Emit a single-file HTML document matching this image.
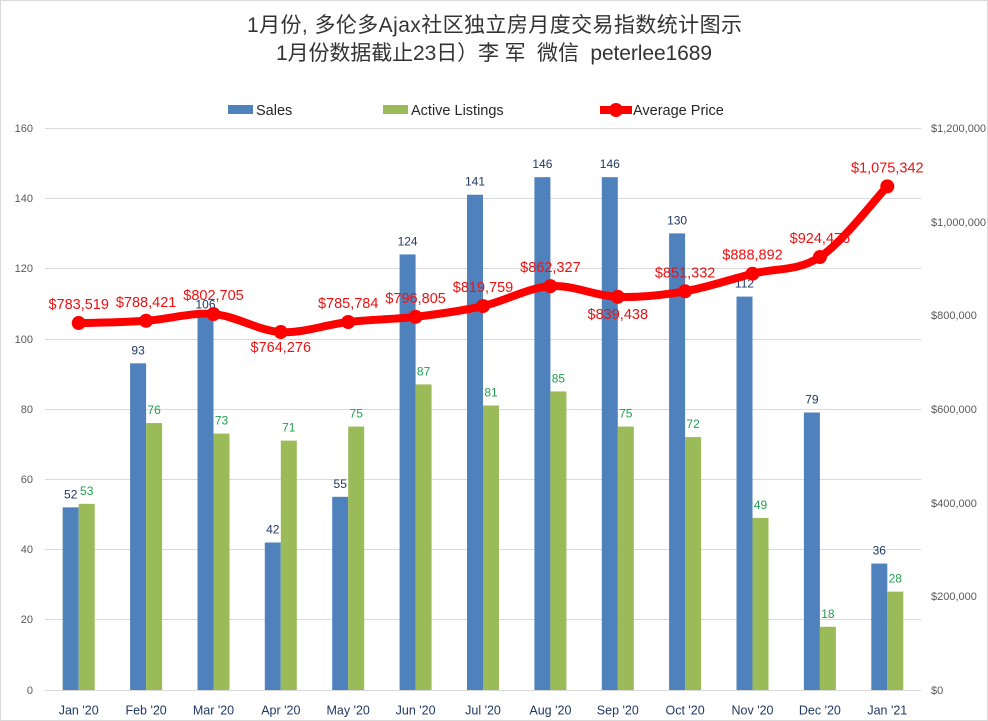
<!DOCTYPE html>
<html>
<head>
<meta charset="utf-8">
<style>
html,body{margin:0;padding:0;background:#fff;}
svg{display:block;}
text{font-family:"Liberation Sans","Noto Sans CJK SC",sans-serif;}
</style>
</head>
<body>
<svg width="988" height="721" viewBox="0 0 988 721" xmlns="http://www.w3.org/2000/svg">
<rect x="0.5" y="0.5" width="987" height="720" fill="#fff" stroke="#d9d9d9" stroke-width="1"/>

<!-- Title -->
<text x="494.5" y="32" font-size="21" fill="#333" text-anchor="middle" textLength="495" lengthAdjust="spacing">1月份, 多伦多Ajax社区独立房月度交易指数统计图示</text>
<text x="494" y="60" font-size="21" fill="#333" text-anchor="middle" textLength="436" lengthAdjust="spacing" xml:space="preserve">1月份数据截止23日）李 军  微信  peterlee1689</text>

<!-- Legend -->
<rect x="228" y="105" width="25" height="9" fill="#4f81bd"/>
<text x="256" y="115" font-size="14.5" fill="#262626">Sales</text>
<rect x="383" y="105" width="25" height="9" fill="#9bbb59"/>
<text x="411" y="115" font-size="14.5" fill="#262626">Active Listings</text>
<line x1="600" y1="110" x2="632" y2="110" stroke="#ff0000" stroke-width="8"/>
<circle cx="616" cy="110" r="7" fill="#ff0000"/>
<text x="633" y="115" font-size="14.5" fill="#262626">Average Price</text>

<!-- Gridlines -->
<g stroke="#d9d9d9" stroke-width="1">
<line x1="45" y1="128.5" x2="921" y2="128.5"/>
<line x1="45" y1="198.5" x2="921" y2="198.5"/>
<line x1="45" y1="268.5" x2="921" y2="268.5"/>
<line x1="45" y1="339.5" x2="921" y2="339.5"/>
<line x1="45" y1="409.5" x2="921" y2="409.5"/>
<line x1="45" y1="479.5" x2="921" y2="479.5"/>
<line x1="45" y1="549.5" x2="921" y2="549.5"/>
<line x1="45" y1="619.5" x2="921" y2="619.5"/>
<line x1="45" y1="690.5" x2="921" y2="690.5"/>
</g>

<!-- Left axis labels -->
<g font-size="11" fill="#595959" text-anchor="end">
<text x="33" y="132">160</text>
<text x="33" y="202">140</text>
<text x="33" y="272">120</text>
<text x="33" y="343">100</text>
<text x="33" y="413">80</text>
<text x="33" y="483">60</text>
<text x="33" y="553">40</text>
<text x="33" y="623">20</text>
<text x="33" y="694">0</text>
</g>

<!-- Right axis labels -->
<g font-size="11" fill="#595959" text-anchor="start">
<text x="931" y="132">$1,200,000</text>
<text x="931" y="226">$1,000,000</text>
<text x="931" y="319">$800,000</text>
<text x="931" y="413">$600,000</text>
<text x="931" y="507">$400,000</text>
<text x="931" y="600">$200,000</text>
<text x="931" y="694">$0</text>
</g>

<!-- Sales bars -->
<g fill="#4f81bd">
<rect x="62.7" y="507.35" width="16" height="182.65"/>
<rect x="130.1" y="363.34" width="16" height="326.66"/>
<rect x="197.5" y="317.67" width="16" height="372.33"/>
<rect x="264.8" y="542.48" width="16" height="147.52"/>
<rect x="332.2" y="496.81" width="16" height="193.19"/>
<rect x="399.6" y="254.45" width="16" height="435.55"/>
<rect x="467.0" y="194.74" width="16" height="495.26"/>
<rect x="534.4" y="177.18" width="16" height="512.82"/>
<rect x="601.8" y="177.18" width="16" height="512.82"/>
<rect x="669.1" y="233.38" width="16" height="456.62"/>
<rect x="736.5" y="296.6" width="16" height="393.4"/>
<rect x="803.9" y="412.51" width="16" height="277.49"/>
<rect x="871.3" y="563.55" width="16" height="126.45"/>
</g>

<!-- Active bars -->
<g fill="#9bbb59">
<rect x="78.7" y="503.84" width="16" height="186.16"/>
<rect x="146.1" y="423.05" width="16" height="266.95"/>
<rect x="213.5" y="433.59" width="16" height="256.41"/>
<rect x="280.8" y="440.61" width="16" height="249.39"/>
<rect x="348.2" y="426.56" width="16" height="263.44"/>
<rect x="415.6" y="384.41" width="16" height="305.59"/>
<rect x="483.0" y="405.49" width="16" height="284.51"/>
<rect x="550.4" y="391.44" width="16" height="298.56"/>
<rect x="617.8" y="426.56" width="16" height="263.44"/>
<rect x="685.1" y="437.1" width="16" height="252.9"/>
<rect x="752.5" y="517.89" width="16" height="172.11"/>
<rect x="819.9" y="626.78" width="16" height="63.22"/>
<rect x="887.3" y="591.65" width="16" height="98.35"/>
</g>

<!-- Sales labels -->
<g font-size="12" fill="#1f3864" text-anchor="middle">
<text x="70.7" y="498.3">52</text>
<text x="138.1" y="354.3">93</text>
<text x="205.5" y="308.7">106</text>
<text x="272.8" y="533.5">42</text>
<text x="340.2" y="487.8">55</text>
<text x="407.6" y="245.4">124</text>
<text x="475.0" y="185.7">141</text>
<text x="542.4" y="168.2">146</text>
<text x="609.8" y="168.2">146</text>
<text x="677.1" y="224.4">130</text>
<text x="744.5" y="287.6">112</text>
<text x="811.9" y="403.5">79</text>
<text x="879.3" y="554.5">36</text>
</g>

<!-- Active labels -->
<g font-size="12" fill="#1fa04e" text-anchor="middle">
<text x="86.7" y="494.8">53</text>
<text x="154.1" y="414.1">76</text>
<text x="221.5" y="424.6">73</text>
<text x="288.8" y="431.6">71</text>
<text x="356.2" y="417.6">75</text>
<text x="423.6" y="375.4">87</text>
<text x="491.0" y="396.5">81</text>
<text x="558.4" y="382.4">85</text>
<text x="625.8" y="417.6">75</text>
<text x="693.1" y="428.1">72</text>
<text x="760.5" y="508.9">49</text>
<text x="827.9" y="617.8">18</text>
<text x="895.3" y="582.7">28</text>
</g>

<!-- Price line -->
<path d="M78.7 323.05 C101.16 322.67,123.64 322.26,146.1 320.76 C168.56 319.26,191.04 312.19,213.5 314.07 C235.96 315.95,258.34 330.74,280.8 332.06 C303.26 333.38,325.74 324.53,348.2 321.99 C370.66 319.45,393.14 319.48,415.6 316.83 C438.06 314.18,460.54 311.2,483.0 306.08 C505.46 300.96,527.94 287.68,550.4 286.14 C572.86 284.6,595.34 296.0,617.8 296.86 C640.26 297.72,662.64 295.15,685.1 291.29 C707.56 287.43,730.04 279.41,752.5 273.70 C774.96 267.99,797.44 271.59,819.9 257.04 C842.36 242.49,876.07 198.16,887.3 186.38" fill="none" stroke="#ff0000" stroke-width="8" stroke-linejoin="round" stroke-linecap="round"/>
<g fill="#ff0000">
<circle cx="78.7" cy="323.05" r="7"/>
<circle cx="146.1" cy="320.76" r="7"/>
<circle cx="213.5" cy="314.07" r="7"/>
<circle cx="280.8" cy="332.06" r="7"/>
<circle cx="348.2" cy="321.99" r="7"/>
<circle cx="415.6" cy="316.83" r="7"/>
<circle cx="483.0" cy="306.08" r="7"/>
<circle cx="550.4" cy="286.14" r="7"/>
<circle cx="617.8" cy="296.86" r="7"/>
<circle cx="685.1" cy="291.29" r="7"/>
<circle cx="752.5" cy="273.70" r="7"/>
<circle cx="819.9" cy="257.04" r="7"/>
<circle cx="887.3" cy="186.38" r="7"/>
</g>

<!-- Price labels -->
<g font-size="14.5" fill="#ee1111" text-anchor="middle">
<text x="78.7" y="309">$783,519</text>
<text x="146.1" y="306.8">$788,421</text>
<text x="213.5" y="300.1">$802,705</text>
<text x="280.8" y="352">$764,276</text>
<text x="348.2" y="308">$785,784</text>
<text x="415.6" y="302.8">$796,805</text>
<text x="483.0" y="292.1">$819,759</text>
<text x="550.4" y="272.1">$862,327</text>
<text x="617.8" y="319">$839,438</text>
<text x="685.1" y="277.3">$851,332</text>
<text x="752.5" y="259.7">$888,892</text>
<text x="819.9" y="243">$924,476</text>
<text x="887.3" y="172.4">$1,075,342</text>
</g>

<!-- X axis labels -->
<g font-size="12.5" fill="#1f3864" text-anchor="middle">
<text x="78.7" y="714.5">Jan '20</text>
<text x="146.1" y="714.5">Feb '20</text>
<text x="213.5" y="714.5">Mar '20</text>
<text x="280.8" y="714.5">Apr '20</text>
<text x="348.2" y="714.5">May '20</text>
<text x="415.6" y="714.5">Jun '20</text>
<text x="483.0" y="714.5">Jul '20</text>
<text x="550.4" y="714.5">Aug '20</text>
<text x="617.8" y="714.5">Sep '20</text>
<text x="685.1" y="714.5">Oct '20</text>
<text x="752.5" y="714.5">Nov '20</text>
<text x="819.9" y="714.5">Dec '20</text>
<text x="887.3" y="714.5">Jan '21</text>
</g>
</svg>
</body>
</html>
